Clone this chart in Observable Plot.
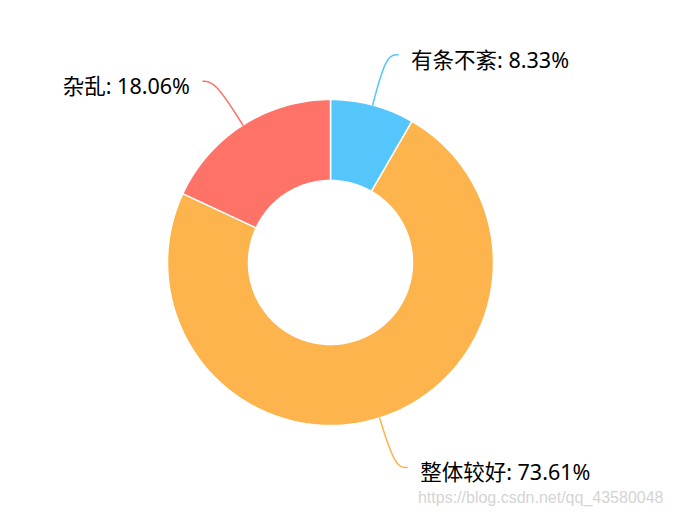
<!DOCTYPE html>
<html>
<head>
<meta charset="utf-8">
<script src="https://cdn.jsdelivr.net/npm/d3@7"></script>
<script src="https://cdn.jsdelivr.net/npm/@observablehq/plot@0.6"></script>
<style>
  html, body { margin: 0; padding: 0; background: #fff; }
</style>
</head>
<body>
<div id="chart"></div>
<script>
// Data (clockwise from 12 o'clock)
const names = ["有条不紊", "整体较好", "杂乱"];
const values = [8.33, 73.61, 18.06];
const colors = ["#55c6fc", "#feb44c", "#fe7268"];
const watermark = "https://blog.csdn.net/qq_43580048";

// Geometry (style)
const R0 = 82, R1 = 163, len1 = 52, len2 = 12, N = 240;

const arcs = d3.pie().sort(null).value(d => d)(values);

const slicePts = [];
arcs.forEach((a, i) => {
  const steps = Math.max(2, Math.ceil(N * (a.endAngle - a.startAngle) / (2 * Math.PI)));
  for (let k = 0; k <= steps; k++) {
    const t = a.startAngle + (a.endAngle - a.startAngle) * k / steps;
    slicePts.push({key: i, x: R1 * Math.sin(t), y: R1 * Math.cos(t)});
  }
  for (let k = steps; k >= 0; k--) {
    const t = a.startAngle + (a.endAngle - a.startAngle) * k / steps;
    slicePts.push({key: i, x: R0 * Math.sin(t), y: R0 * Math.cos(t)});
  }
  slicePts.push({key: i, x: R1 * Math.sin(a.startAngle), y: R1 * Math.cos(a.startAngle)});
});

const linePts = [];
const labels = [];
arcs.forEach((a, i) => {
  const m = (a.startAngle + a.endAngle) / 2;
  const side = Math.sin(m) >= 0 ? 1 : -1;
  const p0 = {x: R1 * Math.sin(m), y: R1 * Math.cos(m)};
  const p1 = {x: (R1 + len1) * Math.sin(m), y: (R1 + len1) * Math.cos(m)};
  const p2 = {x: p1.x + side * len2, y: p1.y};
  [p0, p1, p2].forEach(p => linePts.push({key: i, ...p}));
  labels.push({key: i, side, x: p2.x, y: p2.y, text: `${names[i]}: ${values[i].toFixed(2)}%`});
});

const font = "'Noto Sans', 'Noto Sans CJK SC', sans-serif";

const chart = Plot.plot({
  width: 673,
  height: 516,
  margin: 0,
  x: {domain: [-330, 343], axis: null},
  y: {domain: [-254, 262], axis: null},
  style: {background: "#fff"},
  marks: [
    Plot.line(slicePts, {x: "x", y: "y", z: "key", fill: d => colors[d.key], stroke: "#fff", strokeWidth: 1.5, strokeLinejoin: "round"}),
    Plot.line(linePts, {x: "x", y: "y", z: "key", stroke: d => colors[d.key], strokeWidth: 1.5, curve: "basis"}),
    Plot.text(labels.filter(d => d.side > 0), {x: "x", y: "y", text: "text", textAnchor: "start", dx: 13, dy: 6, fontSize: 21.5, fontFamily: font, fill: "#000"}),
    Plot.text(labels.filter(d => d.side < 0), {x: "x", y: "y", text: "text", textAnchor: "end", dx: -13, dy: 6, fontSize: 21.5, fontFamily: font, fill: "#000"}),
    Plot.text([watermark], {text: d => d, frameAnchor: "bottom-right", textAnchor: "end", lineAnchor: "middle", dx: -10, dy: -19, fontSize: 16, fontFamily: "'Liberation Sans', Arial, sans-serif", fill: "#d4d4d4"})
  ]
});
document.getElementById("chart").appendChild(chart);
</script>
</body>
</html>
